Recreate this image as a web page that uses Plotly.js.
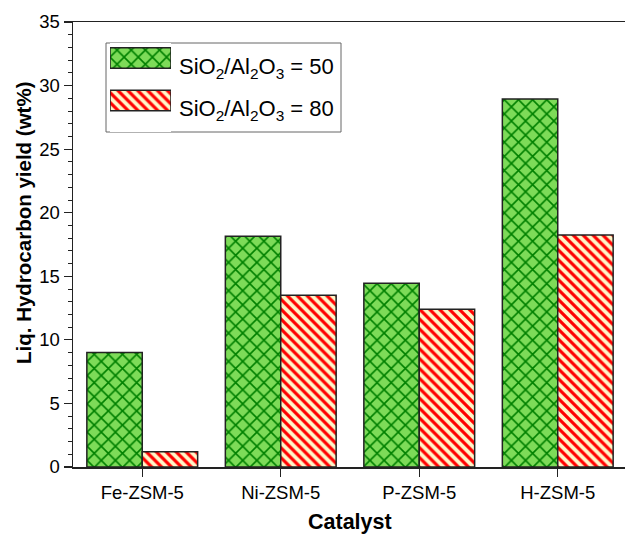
<!DOCTYPE html>
<html>
<head>
<meta charset="utf-8">
<script src="https://cdn.plot.ly/plotly-3.0.1.min.js"></script>
<style>
html, body { margin: 0; padding: 0; overflow: hidden; background: #fff; }
#chart { width: 630px; height: 536px; }
</style>
</head>
<body>
<div id="chart"></div>
<script>
// Data
var categories = ['Fe-ZSM-5', 'Ni-ZSM-5', 'P-ZSM-5', 'H-ZSM-5'];
var ratio50 = [9.0, 18.15, 14.45, 28.95];
var ratio80 = [1.2, 13.5, 12.4, 18.25];
var seriesNames = ['SiO<sub>2</sub>/Al<sub>2</sub>O<sub>3</sub> = 50', 'SiO<sub>2</sub>/Al<sub>2</sub>O<sub>3</sub> = 80'];
var yTickVals = [0, 5, 10, 15, 20, 25, 30, 35];
var xTitle = 'Catalyst';
var yTitle = 'Liq. Hydrocarbon yield (wt%)';

var FONT = 'Liberation Sans, Arial, sans-serif';
var greenStyle = {
  color: '#7ddb58',
  line: { color: '#222', width: 1.5 },
  pattern: { shape: 'x', fgcolor: '#008000', bgcolor: '#7ddb58', size: 10, solidity: 0.3, fillmode: 'replace' }
};
var redStyle = {
  color: '#fff6c8',
  line: { color: '#222', width: 1.5 },
  pattern: { shape: '\\', fgcolor: '#ff0000', bgcolor: '#fff6c8', size: 7, solidity: 0.45, fillmode: 'replace' }
};

var traces = [
  { type: 'bar', x: categories, y: ratio50, name: seriesNames[0], marker: greenStyle, showlegend: false },
  { type: 'bar', x: categories, y: ratio80, name: seriesNames[1], marker: redStyle, showlegend: false },
  // legend swatches
  { type: 'bar', orientation: 'h', x: [1], y: [1], width: 0.48, marker: greenStyle, xaxis: 'x2', yaxis: 'y2', showlegend: false, hoverinfo: 'skip' },
  { type: 'bar', orientation: 'h', x: [1], y: [0], width: 0.48, marker: redStyle, xaxis: 'x2', yaxis: 'y2', showlegend: false, hoverinfo: 'skip' }
];

var L = 73, R = 627, T = 22, B = 467;
function px(x) { return (x - L) / (R - L); }
function py(y) { return (B - y) / (B - T); }

var layout = {
  width: 630, height: 536,
  margin: { l: L, r: 630 - R, t: T, b: 536 - B },
  paper_bgcolor: '#fff', plot_bgcolor: '#fff',
  barmode: 'group', bargap: 0.2, bargroupgap: 0,
  font: { family: FONT, size: 18.5, color: '#000' },
  xaxis: {
    type: 'category',
    showline: true, linecolor: '#222', linewidth: 1.5, mirror: true,
    ticks: 'outside', ticklen: 8, tickwidth: 1.2, tickcolor: '#222',
    tickfont: { family: FONT, size: 18.5 },
    showgrid: false, zeroline: false
  },
  yaxis: {
    range: [0, 35], tickvals: yTickVals,
    showline: true, linecolor: '#222', linewidth: 1.5, mirror: true,
    ticks: 'outside', ticklen: 8, tickwidth: 1.2, tickcolor: '#222',
    minor: { dtick: 1, ticks: 'outside', ticklen: 4, tickwidth: 1, tickcolor: '#222' },
    tickfont: { family: FONT, size: 18.5 },
    showgrid: false, zeroline: false
  },
  xaxis2: {
    domain: [px(110), px(171)], range: [0, 1], anchor: 'y2',
    visible: false, fixedrange: true
  },
  yaxis2: {
    domain: [py(132), py(43)], range: [-0.741, 1.353], anchor: 'x2',
    visible: false, fixedrange: true
  },
  shapes: [
    { type: 'rect', xref: 'paper', yref: 'paper', layer: 'below',
      x0: px(106), x1: px(341), y0: py(132), y1: py(43),
      line: { color: '#666', width: 1 }, fillcolor: '#fff' }
  ],
  annotations: [
    { xref: 'paper', yref: 'paper', x: px(177), y: py(68), xanchor: 'left', yanchor: 'middle',
      text: seriesNames[0], showarrow: false, font: { family: FONT, size: 22 } },
    { xref: 'paper', yref: 'paper', x: px(177), y: py(110), xanchor: 'left', yanchor: 'middle',
      text: seriesNames[1], showarrow: false, font: { family: FONT, size: 22 } },
    { xref: 'paper', yref: 'paper', x: 0.5, y: py(522), xanchor: 'center', yanchor: 'middle',
      text: '<b>' + xTitle + '</b>', showarrow: false, font: { family: FONT, size: 21.5 } },
    { xref: 'paper', yref: 'paper', x: px(23), y: py(223), xanchor: 'center', yanchor: 'middle',
      textangle: -90, text: '<b>' + yTitle + '</b>', showarrow: false, font: { family: FONT, size: 20.5 } }
  ]
};

Plotly.newPlot('chart', traces, layout, { displayModeBar: false, staticPlot: true });
</script>
</body>
</html>
